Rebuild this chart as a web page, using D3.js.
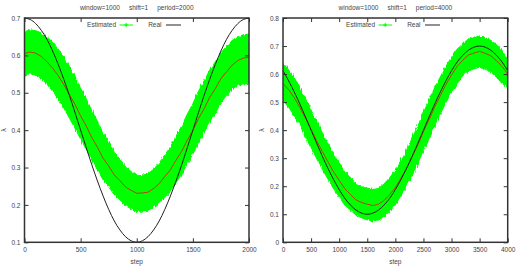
<!DOCTYPE html>
<html>
<head>
<meta charset="utf-8">
<script src="https://cdn.jsdelivr.net/npm/d3@7"></script>
<style>
  body { margin: 0; background: #fff; }
  svg { display: block; }
  text { font-family: "Liberation Sans Narrow", "Liberation Sans", Arial, sans-serif; fill: #444; }
</style>
</head>
<body>
<div class="body"></div>
<script>
// ---- data ----
const stepsLeft = [0,50,100,150,200,250,300,350,400,450,500,550,600,650,700,750,800,850,900,950,
  1000,1050,1100,1150,1200,1250,1300,1350,1400,1450,1500,1550,1600,1650,1700,1750,1800,1850,1900,1950,2000];

const realLeft = [0.700,0.696,0.685,0.667,0.643,0.612,0.576,0.536,0.493,0.447,0.400,0.353,0.307,0.264,
  0.224,0.188,0.157,0.133,0.115,0.104,0.100,0.104,0.115,0.133,0.157,0.188,0.224,0.264,0.307,0.353,
  0.400,0.447,0.493,0.536,0.576,0.612,0.643,0.667,0.685,0.696,0.700];

const estLeft = [0.605,0.609,0.606,0.597,0.583,0.566,0.546,0.522,0.495,0.469,0.438,0.411,0.380,0.354,
  0.325,0.304,0.280,0.265,0.248,0.239,0.231,0.232,0.234,0.244,0.257,0.276,0.294,0.320,0.343,0.373,
  0.399,0.431,0.457,0.488,0.511,0.538,0.556,0.574,0.586,0.593,0.595];

const upperLeft = [0.663,0.668,0.666,0.660,0.649,0.634,0.616,0.594,0.568,0.542,0.511,0.483,0.451,0.423,
  0.392,0.368,0.340,0.322,0.301,0.289,0.278,0.279,0.283,0.295,0.311,0.333,0.354,0.383,0.410,0.442,
  0.470,0.503,0.530,0.560,0.582,0.607,0.623,0.639,0.650,0.655,0.657];

const lowerLeft = [0.548,0.551,0.548,0.539,0.524,0.505,0.484,0.460,0.433,0.406,0.377,0.350,0.320,0.295,
  0.268,0.249,0.228,0.214,0.199,0.190,0.183,0.184,0.186,0.194,0.205,0.221,0.238,0.260,0.283,0.311,
  0.337,0.368,0.393,0.424,0.447,0.474,0.494,0.510,0.520,0.524,0.525];

const stepsRight = [0,100,200,300,400,500,600,700,800,900,1000,1100,1200,1300,1400,1500,1600,1700,1800,1900,
  2000,2100,2200,2300,2400,2500,2600,2700,2800,2900,3000,3100,3200,3300,3400,3500,3600,3700,3800,3900,4000];

const realRight = [0.612,0.576,0.536,0.493,0.447,0.400,0.353,0.307,0.264,0.224,0.188,0.157,0.133,0.115,
  0.104,0.100,0.104,0.115,0.133,0.157,0.188,0.224,0.264,0.307,0.353,0.400,0.447,0.493,0.536,0.576,
  0.612,0.643,0.667,0.685,0.696,0.700,0.696,0.685,0.667,0.643,0.612];

const estRight = [0.566,0.545,0.516,0.481,0.443,0.403,0.361,0.324,0.287,0.251,0.221,0.191,0.171,0.151,
  0.142,0.136,0.131,0.136,0.149,0.171,0.195,0.229,0.264,0.306,0.347,0.395,0.437,0.483,0.523,0.563,
  0.597,0.628,0.649,0.668,0.675,0.681,0.674,0.665,0.648,0.627,0.601];

const upperRight = [0.637,0.614,0.586,0.550,0.512,0.471,0.429,0.390,0.352,0.314,0.282,0.250,0.230,0.210,
  0.199,0.193,0.188,0.192,0.207,0.230,0.256,0.292,0.328,0.371,0.413,0.462,0.504,0.550,0.589,0.627,
  0.659,0.688,0.707,0.724,0.730,0.735,0.729,0.720,0.704,0.684,0.650];

const lowerRight = [0.507,0.483,0.453,0.418,0.380,0.341,0.300,0.262,0.227,0.192,0.163,0.134,0.116,0.098,
  0.088,0.081,0.076,0.080,0.092,0.112,0.135,0.168,0.201,0.243,0.283,0.330,0.371,0.418,0.459,0.500,
  0.536,0.568,0.591,0.611,0.619,0.625,0.618,0.608,0.590,0.568,0.552];

const xTicksLeft = [0,500,1000,1500,2000];
const yTicksLeft = [0.1,0.2,0.3,0.4,0.5,0.6,0.7];
const xTicksRight = [0,500,1000,1500,2000,2500,3000,3500,4000];
const yTicksRight = [0,0.1,0.2,0.3,0.4,0.5,0.6,0.7,0.8];

const svg = d3.select(".body").append("svg").attr("width", 519).attr("height", 274);

// rough edge for the green spread (the original is a dense cloud of error bars)
const filt = svg.append("defs").append("filter").attr("id", "fuzz")
  .attr("x", "-5%").attr("y", "-5%").attr("width", "110%").attr("height", "110%");
filt.append("feTurbulence").attr("type", "fractalNoise")
  .attr("baseFrequency", "0.6 0.1").attr("numOctaves", 2).attr("seed", 3).attr("result", "n");
filt.append("feDisplacementMap").attr("in", "SourceGraphic").attr("in2", "n")
  .attr("scale", 4).attr("xChannelSelector", "R").attr("yChannelSelector", "G");

function drawPanel(p) {
  const x = d3.scaleLinear().domain(p.xDomain).range([p.left, p.right]);
  const y = d3.scaleLinear().domain(p.yDomain).range([p.bottom, p.top]);
  const g = svg.append("g");

  const clipId = "clip" + p.left;
  svg.select("defs").append("clipPath").attr("id", clipId)
    .append("rect").attr("x", p.left).attr("y", p.top)
    .attr("width", p.right - p.left).attr("height", p.bottom - p.top);

  const band = d3.area()
    .x((d, i) => x(p.steps[i]))
    .y0((d, i) => y(p.lower[i]))
    .y1((d, i) => y(p.upper[i]));
  g.append("g").attr("clip-path", `url(#${clipId})`)
    .append("path").datum(p.upper).attr("d", band)
    .attr("fill", "#00ff00").attr("stroke", "#00ff00").attr("stroke-width", 1.2)
    .attr("filter", "url(#fuzz)");

  const line = d3.line().x((d, i) => x(p.steps[i])).y(d => y(d));
  g.append("path").datum(p.est).attr("d", line)
    .attr("fill", "none").attr("stroke", "#b8420e").attr("stroke-width", 1);
  g.append("path").datum(p.real).attr("d", line.curve(d3.curveNatural))
    .attr("fill", "none").attr("stroke", "#222").attr("stroke-width", 1);

  // axes, ticks inward and mirrored
  const fmtY = d => d === 0 ? "0" : d3.format(".1f")(d);
  const axB = g.append("g").attr("transform", `translate(0,${p.bottom})`)
    .call(d3.axisBottom(x).tickValues(p.xTicks).tickSize(-4).tickPadding(5).tickFormat(d3.format("d")));
  const axT = g.append("g").attr("transform", `translate(0,${p.top})`)
    .call(d3.axisTop(x).tickValues(p.xTicks).tickSize(-4).tickFormat(""));
  const axL = g.append("g").attr("transform", `translate(${p.left},0)`)
    .call(d3.axisLeft(y).tickValues(p.yTicks).tickSize(-4).tickPadding(4).tickFormat(fmtY));
  const axR = g.append("g").attr("transform", `translate(${p.right},0)`)
    .call(d3.axisRight(y).tickValues(p.yTicks).tickSize(-4).tickFormat(""));
  [axB, axT, axL, axR].forEach(a => {
    a.select(".domain").remove();
    a.selectAll("line").attr("stroke", "#333");
    a.selectAll("text").attr("font-size", "6.5px").attr("fill", "#444")
      .style("font-family", '"Liberation Sans Narrow", "Liberation Sans", sans-serif');
  });

  g.append("rect")
    .attr("x", p.left).attr("y", p.top)
    .attr("width", p.right - p.left).attr("height", p.bottom - p.top)
    .attr("fill", "none").attr("stroke", "#333").attr("stroke-width", 1.5);

  g.append("text").attr("x", (p.left + p.right) / 2).attr("y", 9.5)
    .attr("text-anchor", "middle").attr("font-size", "6.5px")
    .attr("xml:space", "preserve")
    .text(p.title);

  g.append("text").attr("x", (p.left + p.right) / 2).attr("y", 264)
    .attr("text-anchor", "middle").attr("font-size", "6.5px").text("step");
  g.append("text")
    .attr("transform", `translate(${p.left - 19},${(p.top + p.bottom) / 2}) rotate(-90)`)
    .attr("text-anchor", "middle").attr("font-size", "6.5px")
    .style("font-family", '"DejaVu Sans", sans-serif').text("λ");

  // legend
  const ly = 25;
  g.append("text").attr("x", p.legX).attr("y", ly + 2.3)
    .attr("text-anchor", "end").attr("font-size", "6.5px").text("Estimated");
  g.append("line").attr("x1", p.legX + 3.5).attr("x2", p.legX + 17).attr("y1", ly).attr("y2", ly)
    .attr("stroke", "#00ff00").attr("stroke-width", 1);
  const cx = p.legX + 10.2;
  g.append("path").attr("d", `M${cx - 2},${ly}H${cx + 2}M${cx},${ly - 2}V${ly + 2}`)
    .attr("stroke", "#00ff00").attr("stroke-width", 1);
  g.append("text").attr("x", p.legX + 45.5).attr("y", ly + 2.3)
    .attr("text-anchor", "end").attr("font-size", "6.5px").text("Real");
  g.append("line").attr("x1", p.legX + 50).attr("x2", p.legX + 65).attr("y1", ly).attr("y2", ly)
    .attr("stroke", "#222").attr("stroke-width", 1);
}

drawPanel({
  left: 24.5, right: 249, top: 18, bottom: 242.3,
  xDomain: [0, 2000], yDomain: [0.1, 0.7],
  steps: stepsLeft, real: realLeft, est: estLeft, upper: upperLeft, lower: lowerLeft,
  xTicks: xTicksLeft, yTicks: yTicksLeft,
  title: "window=1000     shift=1     period=2000",
  legX: 116
});

drawPanel({
  left: 283, right: 507.7, top: 18, bottom: 242.3,
  xDomain: [0, 4000], yDomain: [0, 0.8],
  steps: stepsRight, real: realRight, est: estRight, upper: upperRight, lower: lowerRight,
  xTicks: xTicksRight, yTicks: yTicksRight,
  title: "window=1000     shift=1     period=4000",
  legX: 375
});
</script>
</body>
</html>
